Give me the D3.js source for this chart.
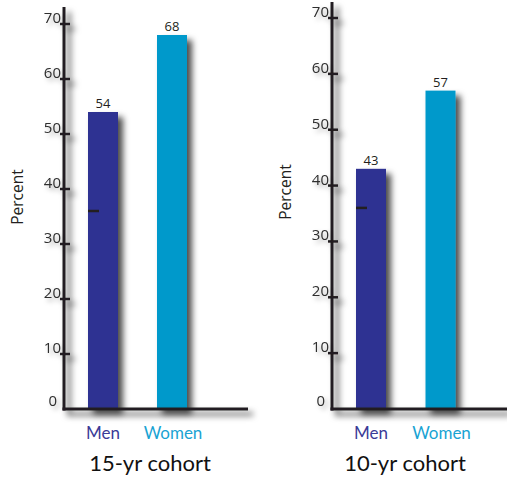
<!DOCTYPE html>
<html>
<head>
<meta charset="utf-8">
<script src="https://cdn.jsdelivr.net/npm/d3@7"></script>
<style>
  html, body { margin: 0; padding: 0; background: #fff; }
  svg { display: block; }
</style>
</head>
<body>
<svg id="chart" width="507" height="479"></svg>
<script>
// Percentages by sex for two cohorts
const categories = ["Men", "Women"];
const cohortTitles = ["15-yr cohort", "10-yr cohort"];
const cohort15 = [54, 68];
const cohort10 = [43, 57];
const menMarkers = [36, 36];           // short reference dash drawn on the Men bar
const tickValues = [0, 10, 20, 30, 40, 50, 60, 70];

const colors = { Men: "#2e3192", Women: "#0099cb" };
const axisColor = "#231f20";

// Each panel: its own axis position, y range and bar centres
const panels = [
  { title: cohortTitles[0], values: cohort15, marker: menMarkers[0],
    axisX: 64, axisTop: 7, xEnd: 248, y0: 409, y70: 24, centers: [103, 172], percentX: 23, percentY: 197, titleX: 150 },
  { title: cohortTitles[1], values: cohort10, marker: menMarkers[1],
    axisX: 332, axisTop: 2, xEnd: 507, y0: 409, y70: 18, centers: [371, 440.5], percentX: 291, percentY: 192, titleX: 405 }
];

const svg = d3.select("#chart");
const defs = svg.append("defs");

const shadow = defs.append("filter").attr("id", "shadow")
  .attr("x", "-30%").attr("y", "-30%").attr("width", "180%").attr("height", "180%");
shadow.append("feDropShadow").attr("dx", 5).attr("dy", 5).attr("stdDeviation", 3.2)
  .attr("flood-color", "#000").attr("flood-opacity", 0.7);

const textShadow = defs.append("filter").attr("id", "textShadow")
  .attr("x", "-50%").attr("y", "-50%").attr("width", "200%").attr("height", "200%");
textShadow.append("feDropShadow").attr("dx", 3).attr("dy", 3).attr("stdDeviation", 2.5)
  .attr("flood-color", "#000").attr("flood-opacity", 0.35);

const barWidth = 30;
const font = "'Open Sans', 'DejaVu Sans', sans-serif";
const titleFont = "Lato, 'Open Sans', sans-serif";

panels.forEach(p => {
  const g = svg.append("g");
  const y = d3.scaleLinear().domain([0, 70]).range([p.y0, p.y70]);
  const x = d3.scalePoint().domain(categories).range(p.centers);

  // bars
  g.selectAll("rect.bar").data(categories).join("rect")
    .attr("class", "bar")
    .attr("x", d => x(d) - barWidth / 2)
    .attr("width", barWidth)
    .attr("y", (d, i) => y(p.values[i]))
    .attr("height", (d, i) => y(0) - y(p.values[i]))
    .attr("fill", d => colors[d])
    .attr("filter", "url(#shadow)");

  // value labels
  g.selectAll("text.val").data(categories).join("text")
    .attr("class", "val")
    .attr("x", d => x(d))
    .attr("y", (d, i) => y(p.values[i]) - 4)
    .attr("text-anchor", "middle")
    .attr("font-family", font).attr("font-size", 13)
    .attr("fill", "#231f20")
    .text((d, i) => p.values[i]);

  // reference dash on Men bar
  g.append("line")
    .attr("x1", x("Men") - barWidth / 2).attr("x2", x("Men") - barWidth / 2 + 11)
    .attr("y1", y(p.marker)).attr("y2", y(p.marker))
    .attr("stroke", axisColor).attr("stroke-width", 2.5);

  // axes with shadow
  const axes = g.append("g").attr("filter", "url(#shadow)");
  axes.append("line")
    .attr("x1", p.axisX).attr("x2", p.axisX)
    .attr("y1", p.axisTop).attr("y2", y(0) + 1.5)
    .attr("stroke", axisColor).attr("stroke-width", 3);
  axes.append("line")
    .attr("x1", p.axisX - 1.5).attr("x2", p.xEnd)
    .attr("y1", y(0)).attr("y2", y(0))
    .attr("stroke", axisColor).attr("stroke-width", 3);
  axes.selectAll("line.tick").data(tickValues.filter(v => v > 0)).join("line")
    .attr("class", "tick")
    .attr("x1", p.axisX - 4).attr("x2", p.axisX + 6)
    .attr("y1", d => y(d)).attr("y2", d => y(d))
    .attr("stroke", axisColor).attr("stroke-width", 2.5);

  // tick labels
  g.selectAll("text.tl").data(tickValues).join("text")
    .attr("class", "tl")
    .attr("x", d => d === 0 ? p.axisX - 7 : p.axisX - 3)
    .attr("y", d => d === 0 ? y(d) - 3 : y(d) - 1)
    .attr("text-anchor", "end")
    .attr("font-family", font).attr("font-size", 15)
    .attr("fill", "#2e2e2e")
    .attr("filter", "url(#textShadow)")
    .text(d => d);

  // y-axis title
  g.append("text")
    .attr("transform", `translate(${p.percentX},${p.percentY}) rotate(-90)`)
    .attr("text-anchor", "middle")
    .attr("font-family", font).attr("font-size", 15.5)
    .attr("fill", "#231f20")
    .text("Percent");

  // category labels
  g.selectAll("text.cat").data(categories).join("text")
    .attr("class", "cat")
    .attr("x", d => x(d) + (d === "Women" ? 1 : 0))
    .attr("y", 439)
    .attr("text-anchor", "middle")
    .attr("font-family", titleFont).attr("font-size", 17)
    .attr("fill", d => d === "Men" ? "#3b3b97" : "#19a3d3")
    .text(d => d);

  // cohort title
  g.append("text")
    .attr("x", p.titleX).attr("y", 471)
    .attr("text-anchor", "middle")
    .attr("font-family", titleFont).attr("font-size", 22)
    .attr("fill", "#111")
    .text(p.title);
});
</script>
</body>
</html>
